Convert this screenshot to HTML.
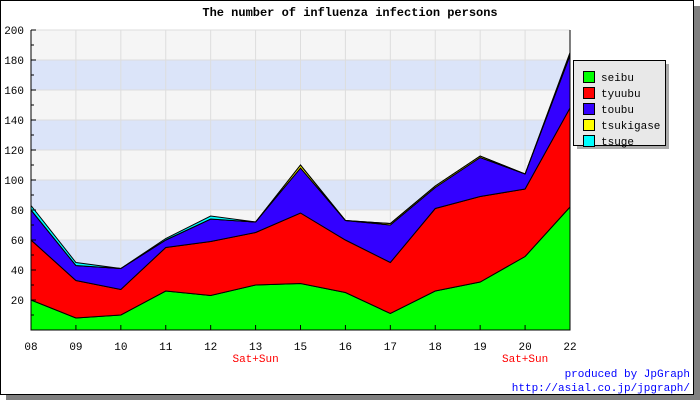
<!DOCTYPE html>
<html><head><meta charset="utf-8"><style>
body{margin:0;background:#fff;}
svg text{font-family:"Liberation Mono","DejaVu Sans Mono",monospace;}
</style></head><body>
<svg id="c" width="700" height="400" xmlns="http://www.w3.org/2000/svg">
<rect x="6" y="6" width="694" height="394" fill="#808080"/>
<rect x="0.5" y="0.5" width="693" height="394" fill="#fff" stroke="#000"/>
<text x="350" y="16" text-anchor="middle" font-size="12" font-weight="bold">The number of influenza infection persons</text>
<g id="bands"></g><g id="grid"></g><g id="areas"></g><g id="axes"></g>
<g>
<rect x="577" y="64" width="92" height="85" fill="#aaa"/>
<rect x="573.5" y="60.5" width="92" height="85" fill="#e8e8e8" stroke="#000"/>
<g id="legend-items"></g>
</g>
<text x="690" y="377" text-anchor="end" font-size="11" fill="#0000ff">produced by JpGraph</text>
<text x="690" y="391" text-anchor="end" font-size="11" fill="#0000ff">http://asial.co.jp/jpgraph/</text>
</svg>
<script>
const categories=["08","09","10","11","12","13","15","16","17","18","19","20","22"];
const seibu=[20,8,10,26,23,30,31,25,11,26,32,49,82];
const tyuubu=[40,25,17,29,36,35,47,35,34,55,57,45,66];
const toubu=[20,10,14,5,15,7,30,13,25,14,26,10,35];
const tsukigase=[0,0,0,0,0,0,2,0,1,1,1,0,1];
const tsuge=[3,2,0,1,2,0,0,0,0,0,0,0,1];
const yTicks=[20,40,60,80,100,120,140,160,180,200];
const seriesNames=["seibu","tyuubu","toubu","tsukigase","tsuge"];
const weekendLabels={"13":"Sat+Sun","20":"Sat+Sun"};
const NS="http://www.w3.org/2000/svg";
const L=31,R=570,T=30,B=330,YMAX=200;
const X=i=>L+i*(R-L)/(categories.length-1);
const Y=v=>B-v*(B-T)/YMAX;
function mk(tag,attrs,parent){const e=document.createElementNS(NS,tag);for(const k in attrs)e.setAttribute(k,attrs[k]);parent.appendChild(e);return e;}
const bands=document.getElementById('bands'),grid=document.getElementById('grid'),areas=document.getElementById('areas'),axes=document.getElementById('axes');
for(let v=0;v<YMAX;v+=20){const r=mk('rect',{x:L,y:Y(v+20),width:R-L,height:Y(v)-Y(v+20),fill:(v/20)%2===0?'#dbe4f9':'#f5f5f5'},bands);

}
yTicks.forEach(v=>{const l=mk('line',{x1:L,x2:R,y1:Y(v),y2:Y(v),stroke:'#ddd'},grid);

});
categories.forEach((c,i)=>{const l=mk('line',{x1:X(i),x2:X(i),y1:T,y2:B,stroke:'#ddd'},grid);

});
const data=[seibu,tyuubu,toubu,tsukigase,tsuge];
const colors=['#00ff00','#ff0000','#3300ff','#ffff00','#00ffff'];
let base=categories.map(()=>0);
data.forEach((s,k)=>{const top=base.map((b,i)=>b+s[i]);
let pts=top.map((v,i)=>X(i)+','+Y(v));
for(let i=categories.length-1;i>=0;i--)pts.push(X(i)+','+Y(base[i]));
const p=mk('polygon',{points:pts.join(' '),fill:colors[k],stroke:'#000','stroke-width':1},areas);


base=top;});
const ya=mk('line',{x1:L,x2:L,y1:T,y2:B,stroke:'#000'},axes);


const xa=mk('line',{x1:L,x2:R,y1:B,y2:B,stroke:'#000'},axes);


mk('line',{x1:R,x2:R,y1:T,y2:B,stroke:'#000'},axes);
for(let v=10;v<=YMAX;v+=10){mk('line',{x1:L,x2:L+(v%20?3:5),y1:Y(v),y2:Y(v),stroke:'#000'},axes);}
yTicks.forEach(v=>{const t=mk('text',{x:L-7,y:Y(v)+4,'text-anchor':'end','font-size':11},axes);t.textContent=v;

});
categories.forEach((c,i)=>{mk('line',{x1:X(i),x2:X(i),y1:B,y2:B-5,stroke:'#000'},axes);
const t=mk('text',{x:X(i),y:B+20,'text-anchor':'middle','font-size':11},axes);t.textContent=c;


if(weekendLabels[c]){const w=mk('text',{x:X(i),y:B+32,'text-anchor':'middle','font-size':11,fill:'#ff0000'},axes);w.textContent=weekendLabels[c];

}});
const li=document.getElementById('legend-items');
seriesNames.forEach((n,k)=>{const y=71+k*16;
const g=mk('g',{},li);


mk('rect',{x:583.5,y:y+0.5,width:11,height:11,fill:colors[k],stroke:'#000'},g);
const t=mk('text',{x:601,y:y+10,'font-size':11},g);t.textContent=n;});
</script>
</body></html>
